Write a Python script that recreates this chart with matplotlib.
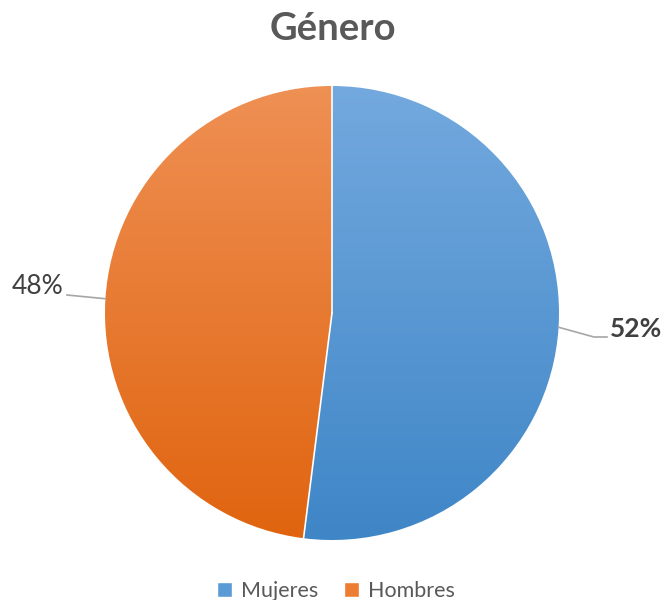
import numpy as np
import matplotlib
matplotlib.use("Agg")
import matplotlib.pyplot as plt
from matplotlib.colors import LinearSegmentedColormap

plt.rcParams['font.family'] = ['Lato', 'DejaVu Sans']

title = "Género"
categories = ["Mujeres", "Hombres"]
values = [52, 48]
label_texts = ["52%", "48%"]
colors_mid = ["#5B9BD5", "#ED7D31"]
grad_top = ["#73A9DE", "#EF9054"]
grad_bot = ["#3F86C7", "#E0640F"]

W, H = 665, 600
fig = plt.figure(figsize=(W / 100, H / 100), dpi=100)
ax = fig.add_axes([0, 0, 1, 1])

cx, cy, r = 332, 600 - 313, 227
wedges, _ = ax.pie(values, colors=colors_mid, startangle=90, counterclock=False,
                   center=(cx, cy), radius=r, frame=True,
                   wedgeprops=dict(linewidth=1.0, edgecolor='white'))

# gradient fills
for w, ct, cb in zip(wedges, grad_top, grad_bot):
    cmap = LinearSegmentedColormap.from_list('g', [cb, ct])
    grad = np.linspace(0, 1, 256).reshape(-1, 1)
    im = ax.imshow(grad, cmap=cmap, origin='lower', aspect='auto',
                   extent=(cx - r, cx + r, cy - r, cy + r), zorder=w.get_zorder() + 0.1)
    im.set_clip_path(w)
ax.set_xlim(0, W)
ax.set_ylim(0, H)
ax.axis('off')

# white separators on top
for w in wedges:
    th = np.deg2rad(w.theta1)
    ax.plot([cx, cx + r * np.cos(th)], [cy, cy + r * np.sin(th)], color='white', lw=1.2, zorder=5)

# labels with leader lines
total = sum(values)
start = 90
for i, (v, txt) in enumerate(zip(values, label_texts)):
    mid = start - v / total * 360 / 2
    start -= v / total * 360
    a = np.deg2rad(mid)
    px, py = cx + r * np.cos(a), cy + r * np.sin(a)
    if np.cos(a) > 0:
        ax.plot([px, 594, 607], [py, 600 - 337, 600 - 337], color='#A6A6A6', lw=1.2, zorder=6)
        ax.text(610, 600 - 329, txt, ha='left', va='center', fontsize=19,
                fontweight='bold', color='#404040')
    else:
        ax.plot([px, 67], [py, 600 - 295], color='#A6A6A6', lw=1.2, zorder=6)
        ax.text(63, 600 - 287, txt, ha='right', va='center', fontsize=19,
                color='#404040')

ax.text(W / 2, 600 - 29, title, ha='center', va='center', fontsize=27.5,
        fontweight='bold', color='#595959')

leg = ax.legend(wedges, categories, loc='center', bbox_to_anchor=(336 / W, 9 / 600),
                ncol=2, frameon=False, fontsize=15.5, handlelength=0.7, handleheight=0.7,
                columnspacing=1.2, handletextpad=0.4, labelcolor='#595959',
                borderpad=0, borderaxespad=0)

fig.savefig("out.png", dpi=100)
